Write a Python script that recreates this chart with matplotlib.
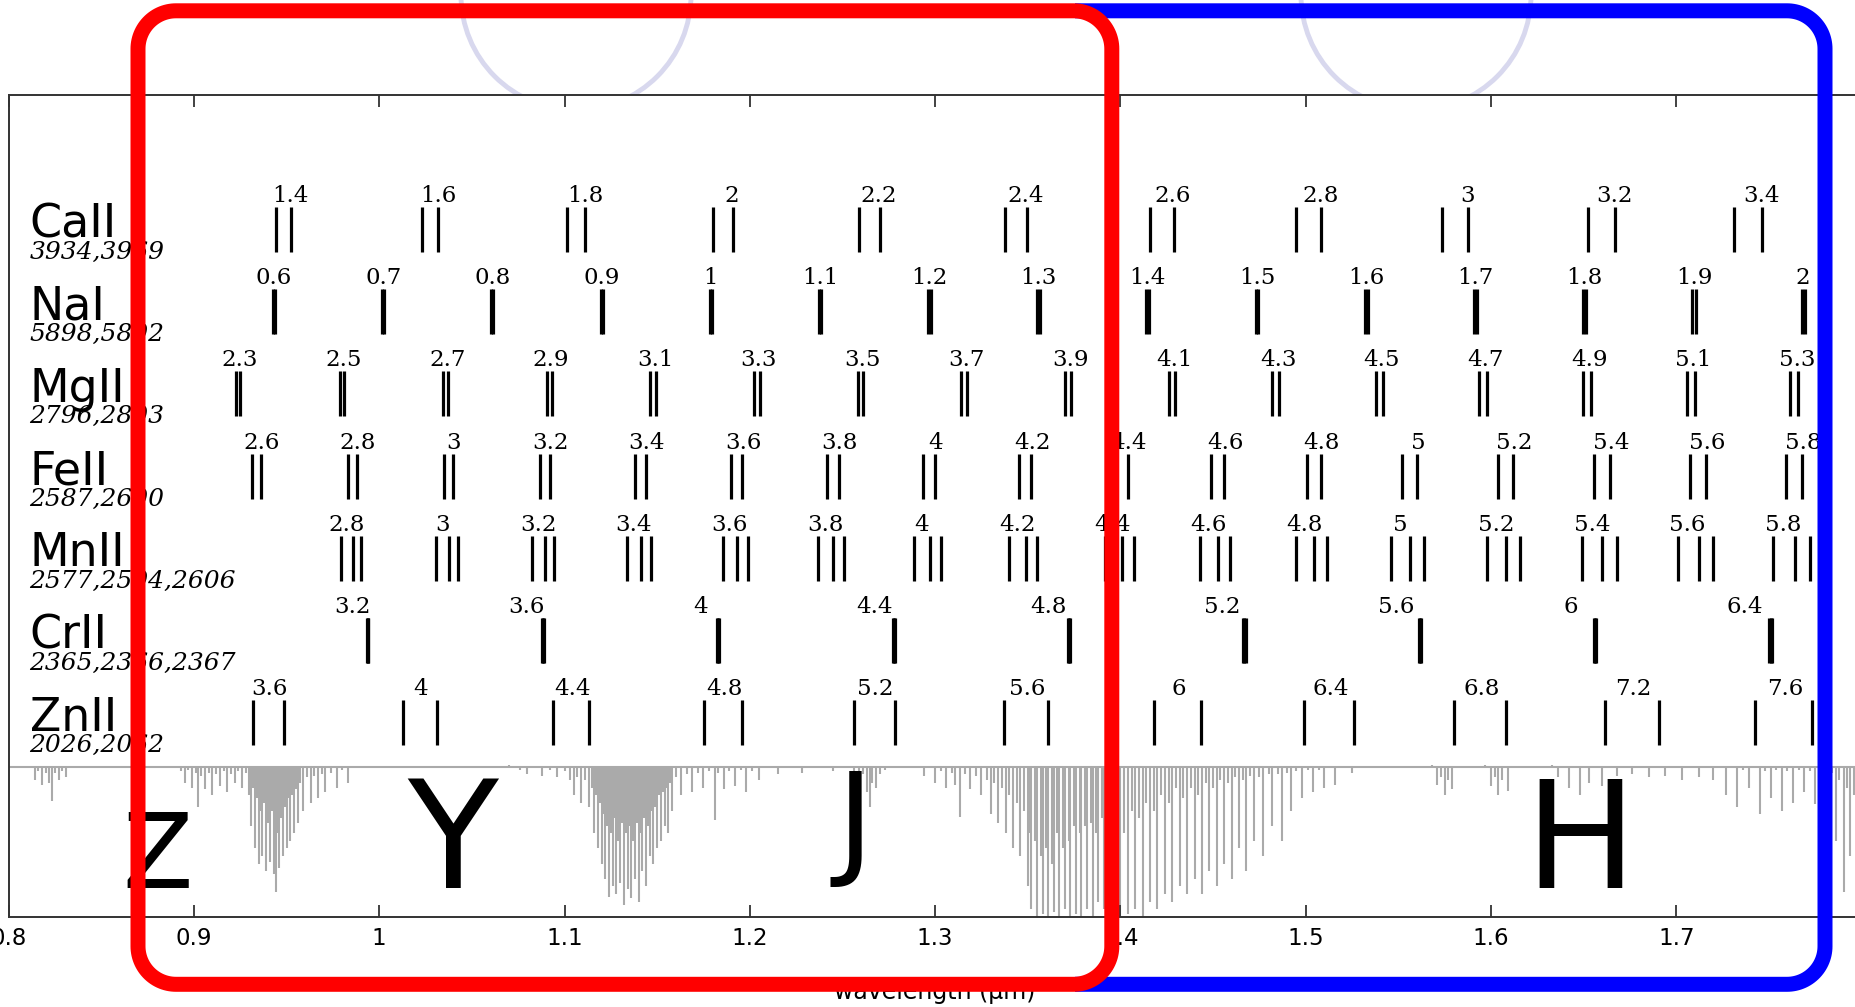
import numpy as np
import matplotlib
matplotlib.use("Agg")
import matplotlib.pyplot as plt
from matplotlib.path import Path
from matplotlib.patches import PathPatch, Ellipse
from matplotlib.transforms import Affine2D

# ---------------- data ----------------
ions = ["CaII", "NaI", "MgII", "FeII", "MnII", "CrII", "ZnII"]
ion_wave_text = ["3934,3969", "5898,5892", "2796,2803", "2587,2600",
                 "2577,2594,2606", "2365,2366,2367", "2026,2062"]
rest_waves = [[3934, 3969], [5898, 5892], [2796, 2803], [2587, 2600],
              [2577, 2594, 2606], [2365, 2366, 2367], [2026, 2062]]
label_ref = [3968, 5895, 2802, 2601, 2585, 2347, 2045]   # rest wavelength (A) under each z label
z_values = [
    [1.4, 1.6, 1.8, 2.0, 2.2, 2.4, 2.6, 2.8, 3.0, 3.2, 3.4],
    [0.6, 0.7, 0.8, 0.9, 1.0, 1.1, 1.2, 1.3, 1.4, 1.5, 1.6, 1.7, 1.8, 1.9, 2.0],
    [2.3, 2.5, 2.7, 2.9, 3.1, 3.3, 3.5, 3.7, 3.9, 4.1, 4.3, 4.5, 4.7, 4.9, 5.1, 5.3],
    [2.6, 2.8, 3.0, 3.2, 3.4, 3.6, 3.8, 4.0, 4.2, 4.4, 4.6, 4.8, 5.0, 5.2, 5.4, 5.6, 5.8],
    [2.8, 3.0, 3.2, 3.4, 3.6, 3.8, 4.0, 4.2, 4.4, 4.6, 4.8, 5.0, 5.2, 5.4, 5.6, 5.8],
    [3.2, 3.6, 4.0, 4.4, 4.8, 5.2, 5.6, 6.0, 6.4],
    [3.6, 4.0, 4.4, 4.8, 5.2, 5.6, 6.0, 6.4, 6.8, 7.2, 7.6],
]

band_names = ["Z", "Y", "J", "H"]
band_centers = [0.8806, 1.0398, 1.2566, 1.648]

xticks = [0.8, 0.9, 1.0, 1.1, 1.2, 1.3, 1.4, 1.5, 1.6, 1.7]
xtick_labels = ["0.8", "0.9", "1", "1.1", "1.2", "1.3", "1.4", "1.5", "1.6", "1.7"]

# atmospheric transmission: continuum level and absorption spikes
cont_wl = [0.80, 1.80]
cont_T = [0.99, 0.99]
spike_wl = [
    0.800, 0.812, 0.814, 0.816, 0.818, 0.820, 0.822, 0.8234, 0.825, 0.827, 0.829, 0.831, 0.834, 0.890,
    0.893, 0.895, 0.897, 0.899, 0.901, 0.902, 0.904, 0.906, 0.908, 0.910, 0.912, 0.914, 0.916, 0.918,
    0.920, 0.922, 0.924, 0.926, 0.928,
    0.930, 0.931, 0.932, 0.933, 0.934, 0.935, 0.936, 0.937, 0.938, 0.939, 0.940, 0.941, 0.942, 0.943,
    0.9444, 0.945, 0.946, 0.947, 0.948, 0.949, 0.950, 0.951, 0.952, 0.953, 0.954, 0.955, 0.956, 0.957,
    0.959, 0.961, 0.963, 0.965, 0.967, 0.969, 0.971, 0.974, 0.977, 0.980, 0.983, 0.986,
    1.070, 1.076, 1.080, 1.084, 1.088, 1.092, 1.096, 1.100, 1.103, 1.105, 1.107, 1.109, 1.111, 1.113,
    1.115, 1.116, 1.117, 1.118, 1.119, 1.120, 1.121, 1.122, 1.123, 1.124, 1.125, 1.126, 1.127, 1.128,
    1.129, 1.130, 1.131, 1.132, 1.133, 1.134, 1.135, 1.136, 1.137, 1.138, 1.139, 1.140, 1.141, 1.142,
    1.143, 1.144, 1.145, 1.146, 1.147, 1.148, 1.149, 1.150, 1.151, 1.152, 1.153, 1.154, 1.155, 1.156,
    1.157, 1.158, 1.160, 1.163, 1.166, 1.169, 1.172, 1.175, 1.178, 1.181, 1.183, 1.186, 1.189, 1.192,
    1.195, 1.198, 1.201, 1.205, 1.210, 1.215, 1.220, 1.228, 1.235, 1.245, 1.252, 1.256, 1.259, 1.261,
    1.263, 1.2648, 1.266, 1.268, 1.270, 1.273, 1.280, 1.292, 1.294, 1.297, 1.300, 1.303, 1.306, 1.309,
    1.311, 1.3136, 1.316, 1.319, 1.322, 1.325, 1.328, 1.330, 1.332, 1.334, 1.336, 1.338, 1.340, 1.342,
    1.344, 1.346, 1.348, 1.350, 1.351, 1.352, 1.354, 1.355, 1.357, 1.358, 1.360, 1.361, 1.363, 1.364,
    1.366, 1.367, 1.369, 1.370, 1.372, 1.373, 1.375, 1.376, 1.378, 1.379, 1.381, 1.382, 1.384, 1.385,
    1.387, 1.388, 1.390, 1.391, 1.393, 1.395, 1.398, 1.400, 1.402, 1.404, 1.406, 1.408, 1.410, 1.412,
    1.414, 1.416, 1.418, 1.420, 1.422, 1.424, 1.426, 1.428, 1.430, 1.432, 1.434, 1.436, 1.438, 1.440,
    1.442, 1.444, 1.446, 1.448, 1.450, 1.452, 1.454, 1.456, 1.458, 1.460, 1.462, 1.464, 1.466, 1.468,
    1.470, 1.472, 1.475, 1.477, 1.480, 1.482, 1.485, 1.487, 1.490, 1.492, 1.495, 1.498, 1.501, 1.504,
    1.507, 1.510, 1.513, 1.516, 1.520, 1.525, 1.530, 1.568, 1.571, 1.573, 1.575, 1.577, 1.579, 1.582,
    1.597, 1.600, 1.602, 1.604, 1.606, 1.609, 1.613, 1.633, 1.636, 1.639, 1.642, 1.645, 1.648, 1.650,
    1.653, 1.657, 1.660, 1.664, 1.668, 1.672, 1.676, 1.680, 1.685, 1.690, 1.694, 1.698, 1.703, 1.707,
    1.712, 1.716, 1.720, 1.724, 1.727, 1.730, 1.733, 1.736, 1.739, 1.742, 1.745, 1.748, 1.751, 1.754,
    1.757, 1.760, 1.763, 1.766, 1.769, 1.772, 1.775, 1.778, 1.781, 1.784, 1.786, 1.788, 1.7905, 1.792,
    1.794, 1.796, 1.798, 1.800,
]
spike_T = [
    0.98, 0.98, 0.90, 0.96, 0.87, 0.95, 0.88, 0.76, 0.95, 0.90, 0.96, 0.92, 0.98, 0.99,
    0.96, 0.88, 0.97, 0.85, 0.95, 0.72, 0.93, 0.84, 0.95, 0.80, 0.94, 0.86, 0.96, 0.82,
    0.94, 0.88, 0.96, 0.85, 0.95,
    0.80, 0.60, 0.85, 0.45, 0.78, 0.35, 0.70, 0.40, 0.75, 0.30, 0.62, 0.36, 0.70, 0.28,
    0.16, 0.55, 0.32, 0.65, 0.40, 0.72, 0.45, 0.78, 0.50, 0.80, 0.55, 0.84, 0.62, 0.88,
    0.70, 0.92, 0.75, 0.93, 0.78, 0.94, 0.82, 0.95, 0.85, 0.97, 0.88, 0.99,
    1.00, 0.97, 0.94, 0.98, 0.93, 0.97, 0.92, 0.96, 0.90, 0.80, 0.92, 0.75, 0.90, 0.72,
    0.85, 0.55, 0.80, 0.45, 0.75, 0.35, 0.68, 0.25, 0.60, 0.13, 0.55, 0.20, 0.65, 0.15,
    0.50, 0.22, 0.62, 0.08, 0.55, 0.18, 0.60, 0.12, 0.50, 0.25, 0.62, 0.10, 0.55, 0.30,
    0.65, 0.20, 0.60, 0.40, 0.70, 0.35, 0.72, 0.45, 0.80, 0.50, 0.82, 0.60, 0.85, 0.55,
    0.88, 0.70, 0.92, 0.80, 0.94, 0.82, 0.95, 0.85, 0.96, 0.64, 0.95, 0.84, 0.96, 0.86,
    0.97, 0.82, 0.96, 0.90, 0.98, 0.94, 0.98, 0.95, 0.99, 0.96, 0.99, 0.95, 0.90, 0.94,
    0.82, 0.72, 0.88, 0.85, 0.94, 0.97, 0.99, 0.99, 0.93, 0.98, 0.88, 0.96, 0.85, 0.95,
    0.87, 0.66, 0.94, 0.84, 0.93, 0.80, 0.90, 0.68, 0.88, 0.62, 0.85, 0.55, 0.80, 0.45,
    0.75, 0.40, 0.70, 0.20, 0.55, 0.05, 0.50, 0.00, 0.40, 0.02, 0.45, 0.00, 0.35, 0.03,
    0.55, 0.00, 0.45, 0.05, 0.50, 0.00, 0.60, 0.02, 0.55, 0.00, 0.60, 0.05, 0.62, 0.00,
    0.55, 0.10, 0.65, 0.05, 0.60, 0.00, 0.60, 0.00, 0.55, 0.02, 0.70, 0.05, 0.65, 0.00,
    0.75, 0.10, 0.70, 0.05, 0.80, 0.15, 0.75, 0.10, 0.85, 0.20, 0.78, 0.15, 0.85, 0.25,
    0.80, 0.15, 0.88, 0.30, 0.85, 0.20, 0.90, 0.35, 0.88, 0.25, 0.92, 0.45, 0.90, 0.30,
    0.93, 0.50, 0.92, 0.40, 0.94, 0.60, 0.94, 0.50, 0.95, 0.70, 0.96, 0.78, 0.97, 0.82,
    0.97, 0.85, 0.98, 0.87, 0.99, 0.95, 0.99, 1.00, 0.87, 0.92, 0.80, 0.90, 0.84, 0.99,
    1.00, 0.86, 0.92, 0.80, 0.90, 0.83, 0.99, 1.00, 0.92, 0.99, 0.85, 0.98, 0.80, 0.98,
    0.88, 0.99, 0.86, 0.99, 0.93, 0.99, 0.94, 0.99, 0.92, 0.99, 0.93, 0.99, 0.90, 0.99,
    0.92, 0.99, 0.90, 0.99, 0.80, 0.98, 0.72, 0.97, 0.85, 0.98, 0.68, 0.96, 0.78, 0.97,
    0.70, 0.96, 0.75, 0.97, 0.82, 0.96, 0.74, 0.97, 0.80, 0.95, 0.50, 0.90, 0.16, 0.85,
    0.40, 0.80, 0.35, 0.70,
]

# ---------------- layout ----------------
W, H = 1855, 1007
fig = plt.figure(figsize=(W / 100, H / 100), dpi=100)
fig.patch.set_facecolor("white")
ax = fig.add_axes([8.6 / W, (H - 916.7) / H, 1853 / W, 822.1 / H])
ax.set_facecolor("white")
ax.set_xlim(0.8, 1.8)
ax.set_ylim(0, 10)

spine_col = "#333333"
for s in ["left", "bottom", "top", "right"]:
    ax.spines[s].set_color(spine_col)
    ax.spines[s].set_linewidth(1.4)
ax.set_xticks(xticks)
ax.set_xticklabels(xtick_labels)
ax.tick_params(axis="x", which="both", direction="in", length=8.4, width=1.3,
               color=spine_col, top=True, bottom=True, labeltop=False,
               labelsize=16.5, pad=7.5)
ax.set_yticks([])
ax.set_xlabel("wavelength (μm)", fontsize=17, va="baseline")
ax.xaxis.set_label_coords(0.5, -0.1002)

# ---------------- transmission spectrum ----------------
cont_h = 1.845
spec_col = "#aaaaaa"
ax.plot(cont_wl, np.array(cont_T) * cont_h, color=spec_col, lw=1.5, zorder=1)
sl = ax.vlines(spike_wl, np.array(spike_T) * cont_h, cont_T[0] * cont_h,
               colors=spec_col, lw=1.5, zorder=1)
sl.set_capstyle("butt")

# ---------------- absorption-line ladders ----------------
row0 = 8.085
line_h = 0.548
for k, ion in enumerate(ions):
    yb = row0 - k
    for z in z_values[k]:
        xs = [w * (1 + z) / 1e4 for w in rest_waves[k]]
        lc = ax.vlines(xs, yb, yb + line_h, colors="black", lw=2.3, zorder=3)
        lc.set_capstyle("butt")
        xl = label_ref[k] * (1 + z) / 1e4
        ax.text(xl, yb + 0.61, "%g" % z, fontsize=16.5, family="DejaVu Serif",
                ha="center", va="baseline", color="black", zorder=4, clip_on=True)
    ax.text(0.8113, yb + 0.175, ion, fontsize=33, family="DejaVu Sans",
            ha="left", va="baseline", color="black", zorder=4)
    ax.text(0.8113, yb - 0.085, ion_wave_text[k], fontsize=18, family="DejaVu Serif",
            style="italic", ha="left", va="baseline", color="black", zorder=4)

# ---------------- band letters ----------------
band_sizes = [74, 107, 90, 107]
band_base = [0.35, 0.35, 0.66, 0.35]
for name, xc, fs, yb in zip(band_names, band_centers, band_sizes, band_base):
    ax.text(xc, yb, name, fontsize=fs, family="DejaVu Sans", ha="center",
            va="baseline", color="black", zorder=5)

# ---------------- figure decorations (pixel coords, y down) ----------------
px = Affine2D().scale(1 / W, -1 / H).translate(0, 1) + fig.transFigure

for cx in (576, 1416):
    e = Ellipse((cx, -5), 230, 230, transform=px, fill=False,
                edgecolor="#d8d8ee", lw=3.5, zorder=-1)
    fig.add_artist(e)


def arc(cx, cy, r, t0, t1, n=30):
    t = np.linspace(t0, t1, n)
    return list(zip(cx + r * np.cos(t), cy + r * np.sin(t)))


def rounded_rect(x0, y0, x1, y1, r):
    v = []
    v += arc(x0 + r, y0 + r, r, np.pi, 1.5 * np.pi)
    v += arc(x1 - r, y0 + r, r, 1.5 * np.pi, 2 * np.pi)
    v += arc(x1 - r, y1 - r, r, 0, 0.5 * np.pi)
    v += arc(x0 + r, y1 - r, r, 0.5 * np.pi, np.pi)
    v.append(v[0])
    codes = [Path.MOVETO] + [Path.LINETO] * (len(v) - 2) + [Path.CLOSEPOLY]
    return Path(v, codes)


r = 38
y0, y1 = 10.8, 984.3
# blue (open on the left, hidden under red)
bv = [(1075, y0)]
bv += arc(1825 - r, y0 + r, r, 1.5 * np.pi, 2 * np.pi)
bv += arc(1825 - r, y1 - r, r, 0, 0.5 * np.pi)
bv.append((1075, y1))
blue = PathPatch(Path(bv), transform=px, fill=False, edgecolor="#0000ff",
                 lw=10.8, joinstyle="round", capstyle="butt", zorder=10)
fig.add_artist(blue)

red = PathPatch(rounded_rect(138, y0, 1111.8, y1, r), transform=px, fill=False,
                edgecolor="#ff0000", lw=10.8, joinstyle="round", zorder=11)
fig.add_artist(red)

fig.savefig("out.png", dpi=100)
